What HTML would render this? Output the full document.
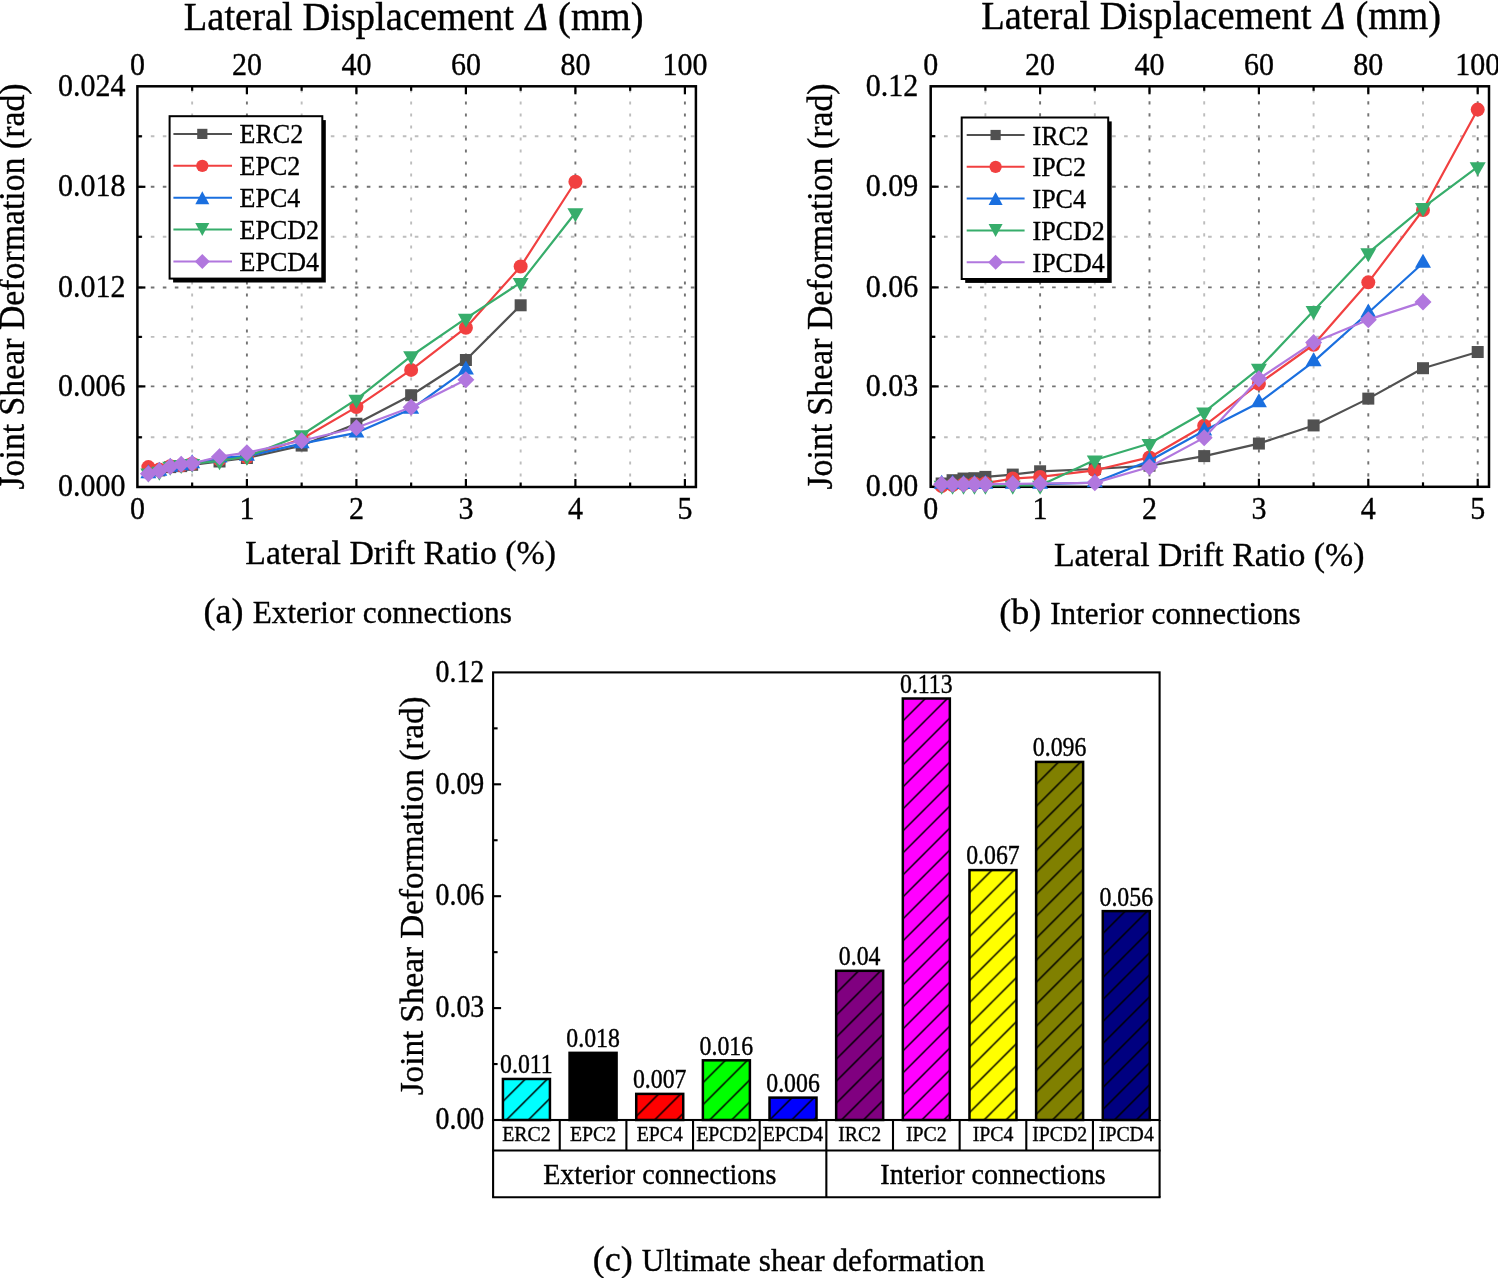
<!DOCTYPE html><html><head><meta charset="utf-8"><style>html,body{margin:0;padding:0;background:#fff;overflow:hidden;}svg{display:block;will-change:transform;} text{stroke:#000;stroke-width:0.35px;paint-order:stroke;}</style></head><body>
<svg width="1498" height="1278" viewBox="0 0 1498 1278" font-family='"Liberation Serif", serif' fill="#000">
<rect width="1498" height="1278" fill="#fff"/>
<g stroke-width="1.9" fill="none">
<line x1="192.15" y1="487" x2="192.15" y2="86.3" stroke="#bdbdbd" stroke-dasharray="3.2 8.8" stroke-dashoffset="1.6"/>
<line x1="246.9" y1="487" x2="246.9" y2="86.3" stroke="#737373" stroke-dasharray="3.2 8.8" stroke-dashoffset="1.6"/>
<line x1="301.65" y1="487" x2="301.65" y2="86.3" stroke="#bdbdbd" stroke-dasharray="3.2 8.8" stroke-dashoffset="1.6"/>
<line x1="356.4" y1="487" x2="356.4" y2="86.3" stroke="#737373" stroke-dasharray="3.2 8.8" stroke-dashoffset="1.6"/>
<line x1="411.15" y1="487" x2="411.15" y2="86.3" stroke="#bdbdbd" stroke-dasharray="3.2 8.8" stroke-dashoffset="1.6"/>
<line x1="465.9" y1="487" x2="465.9" y2="86.3" stroke="#737373" stroke-dasharray="3.2 8.8" stroke-dashoffset="1.6"/>
<line x1="520.65" y1="487" x2="520.65" y2="86.3" stroke="#bdbdbd" stroke-dasharray="3.2 8.8" stroke-dashoffset="1.6"/>
<line x1="575.4" y1="487" x2="575.4" y2="86.3" stroke="#737373" stroke-dasharray="3.2 8.8" stroke-dashoffset="1.6"/>
<line x1="630.15" y1="487" x2="630.15" y2="86.3" stroke="#bdbdbd" stroke-dasharray="3.2 8.8" stroke-dashoffset="1.6"/>
<line x1="684.9" y1="487" x2="684.9" y2="86.3" stroke="#737373" stroke-dasharray="3.2 8.8" stroke-dashoffset="1.6"/>
<line x1="137.4" y1="437.3" x2="695.9" y2="437.3" stroke="#bdbdbd" stroke-dasharray="3.6 8.4" stroke-dashoffset="-1.4"/>
<line x1="137.4" y1="386.4" x2="695.9" y2="386.4" stroke="#737373" stroke-dasharray="3.6 8.4" stroke-dashoffset="-1.4"/>
<line x1="137.4" y1="336.9" x2="695.9" y2="336.9" stroke="#bdbdbd" stroke-dasharray="3.6 8.4" stroke-dashoffset="-1.4"/>
<line x1="137.4" y1="287.5" x2="695.9" y2="287.5" stroke="#737373" stroke-dasharray="3.6 8.4" stroke-dashoffset="-1.4"/>
<line x1="137.4" y1="236.8" x2="695.9" y2="236.8" stroke="#bdbdbd" stroke-dasharray="3.6 8.4" stroke-dashoffset="-1.4"/>
<line x1="137.4" y1="186.8" x2="695.9" y2="186.8" stroke="#737373" stroke-dasharray="3.6 8.4" stroke-dashoffset="-1.4"/>
<line x1="137.4" y1="136.3" x2="695.9" y2="136.3" stroke="#bdbdbd" stroke-dasharray="3.6 8.4" stroke-dashoffset="-1.4"/>
</g>
<g stroke="#000" stroke-width="2.2">
<line x1="192.15" y1="487" x2="192.15" y2="482.5"/>
<line x1="192.15" y1="86.3" x2="192.15" y2="90.8"/>
<line x1="246.9" y1="487" x2="246.9" y2="479"/>
<line x1="246.9" y1="86.3" x2="246.9" y2="94.3"/>
<line x1="301.65" y1="487" x2="301.65" y2="482.5"/>
<line x1="301.65" y1="86.3" x2="301.65" y2="90.8"/>
<line x1="356.4" y1="487" x2="356.4" y2="479"/>
<line x1="356.4" y1="86.3" x2="356.4" y2="94.3"/>
<line x1="411.15" y1="487" x2="411.15" y2="482.5"/>
<line x1="411.15" y1="86.3" x2="411.15" y2="90.8"/>
<line x1="465.9" y1="487" x2="465.9" y2="479"/>
<line x1="465.9" y1="86.3" x2="465.9" y2="94.3"/>
<line x1="520.65" y1="487" x2="520.65" y2="482.5"/>
<line x1="520.65" y1="86.3" x2="520.65" y2="90.8"/>
<line x1="575.4" y1="487" x2="575.4" y2="479"/>
<line x1="575.4" y1="86.3" x2="575.4" y2="94.3"/>
<line x1="630.15" y1="487" x2="630.15" y2="482.5"/>
<line x1="630.15" y1="86.3" x2="630.15" y2="90.8"/>
<line x1="684.9" y1="487" x2="684.9" y2="479"/>
<line x1="684.9" y1="86.3" x2="684.9" y2="94.3"/>
<line x1="137.4" y1="437.3" x2="141.9" y2="437.3"/>
<line x1="137.4" y1="386.4" x2="145.4" y2="386.4"/>
<line x1="137.4" y1="336.9" x2="141.9" y2="336.9"/>
<line x1="137.4" y1="287.5" x2="145.4" y2="287.5"/>
<line x1="137.4" y1="236.8" x2="141.9" y2="236.8"/>
<line x1="137.4" y1="186.8" x2="145.4" y2="186.8"/>
<line x1="137.4" y1="136.3" x2="141.9" y2="136.3"/>
</g>
<rect x="137.4" y="86.3" width="558.5" height="400.7" fill="none" stroke="#000" stroke-width="2.5"/>
<path d="M148.35 472.09L159.3 470.43L170.25 467.12L181.2 466.13L192.15 464.8L219.53 461.49L246.9 458.01L301.65 445.58L356.4 423.73L411.15 395.22L465.9 360L520.65 305.28" fill="none" stroke="#515151" stroke-width="2.2" stroke-linejoin="round"/>
<rect x="142.35" y="466.09" width="12" height="12" fill="#515151"/>
<rect x="153.3" y="464.43" width="12" height="12" fill="#515151"/>
<rect x="164.25" y="461.12" width="12" height="12" fill="#515151"/>
<rect x="175.2" y="460.13" width="12" height="12" fill="#515151"/>
<rect x="186.15" y="458.8" width="12" height="12" fill="#515151"/>
<rect x="213.53" y="455.49" width="12" height="12" fill="#515151"/>
<rect x="240.9" y="452.01" width="12" height="12" fill="#515151"/>
<rect x="295.65" y="439.58" width="12" height="12" fill="#515151"/>
<rect x="350.4" y="417.73" width="12" height="12" fill="#515151"/>
<rect x="405.15" y="389.22" width="12" height="12" fill="#515151"/>
<rect x="459.9" y="354" width="12" height="12" fill="#515151"/>
<rect x="514.65" y="299.28" width="12" height="12" fill="#515151"/>
<path d="M148.35 467.12L159.3 469.61L170.25 466.13L181.2 465.46L192.15 463.81L219.53 459.67L246.9 457.18L301.65 438.96L356.4 407.1L411.15 369.9L465.9 327.68L520.65 266.54L575.4 181.75" fill="none" stroke="#F14040" stroke-width="2.2" stroke-linejoin="round"/>
<circle cx="148.35" cy="467.12" r="7" fill="#F14040"/>
<circle cx="159.3" cy="469.61" r="7" fill="#F14040"/>
<circle cx="170.25" cy="466.13" r="7" fill="#F14040"/>
<circle cx="181.2" cy="465.46" r="7" fill="#F14040"/>
<circle cx="192.15" cy="463.81" r="7" fill="#F14040"/>
<circle cx="219.53" cy="459.67" r="7" fill="#F14040"/>
<circle cx="246.9" cy="457.18" r="7" fill="#F14040"/>
<circle cx="301.65" cy="438.96" r="7" fill="#F14040"/>
<circle cx="356.4" cy="407.1" r="7" fill="#F14040"/>
<circle cx="411.15" cy="369.9" r="7" fill="#F14040"/>
<circle cx="465.9" cy="327.68" r="7" fill="#F14040"/>
<circle cx="520.65" cy="266.54" r="7" fill="#F14040"/>
<circle cx="575.4" cy="181.75" r="7" fill="#F14040"/>
<path d="M148.35 473.59L159.3 471.11L170.25 467.13L181.2 465.48L192.15 463.49L219.53 457.86L246.9 456.2L301.65 443.61L356.4 432.85L411.15 409.09L465.9 369.92" fill="none" stroke="#1A6FDF" stroke-width="2.2" stroke-linejoin="round"/>
<path d="M148.35 464.26L156.35 478.26L140.35 478.26Z" fill="#1A6FDF"/>
<path d="M159.3 461.78L167.3 475.78L151.3 475.78Z" fill="#1A6FDF"/>
<path d="M170.25 457.8L178.25 471.8L162.25 471.8Z" fill="#1A6FDF"/>
<path d="M181.2 456.14L189.2 470.14L173.2 470.14Z" fill="#1A6FDF"/>
<path d="M192.15 454.16L200.15 468.16L184.15 468.16Z" fill="#1A6FDF"/>
<path d="M219.53 448.52L227.53 462.52L211.53 462.52Z" fill="#1A6FDF"/>
<path d="M246.9 446.87L254.9 460.87L238.9 460.87Z" fill="#1A6FDF"/>
<path d="M301.65 434.28L309.65 448.28L293.65 448.28Z" fill="#1A6FDF"/>
<path d="M356.4 423.51L364.4 437.51L348.4 437.51Z" fill="#1A6FDF"/>
<path d="M411.15 399.76L419.15 413.76L403.15 413.76Z" fill="#1A6FDF"/>
<path d="M465.9 360.59L473.9 374.59L457.9 374.59Z" fill="#1A6FDF"/>
<path d="M148.35 473.07L159.3 471.41L170.25 466.44L181.2 464.79L192.15 463.63L219.53 460.98L246.9 456.5L301.65 434.97L356.4 399.34L411.15 356.02L465.9 318.43L520.65 282.63L575.4 212.8" fill="none" stroke="#37AD6B" stroke-width="2.2" stroke-linejoin="round"/>
<path d="M148.35 482.4L156.35 468.4L140.35 468.4Z" fill="#37AD6B"/>
<path d="M159.3 480.75L167.3 466.75L151.3 466.75Z" fill="#37AD6B"/>
<path d="M170.25 475.78L178.25 461.78L162.25 461.78Z" fill="#37AD6B"/>
<path d="M181.2 474.12L189.2 460.12L173.2 460.12Z" fill="#37AD6B"/>
<path d="M192.15 472.96L200.15 458.96L184.15 458.96Z" fill="#37AD6B"/>
<path d="M219.53 470.31L227.53 456.31L211.53 456.31Z" fill="#37AD6B"/>
<path d="M246.9 465.84L254.9 451.84L238.9 451.84Z" fill="#37AD6B"/>
<path d="M301.65 444.3L309.65 430.3L293.65 430.3Z" fill="#37AD6B"/>
<path d="M356.4 408.67L364.4 394.67L348.4 394.67Z" fill="#37AD6B"/>
<path d="M411.15 365.35L419.15 351.35L403.15 351.35Z" fill="#37AD6B"/>
<path d="M465.9 327.76L473.9 313.76L457.9 313.76Z" fill="#37AD6B"/>
<path d="M520.65 291.97L528.65 277.97L512.65 277.97Z" fill="#37AD6B"/>
<path d="M575.4 222.13L583.4 208.13L567.4 208.13Z" fill="#37AD6B"/>
<path d="M148.35 473.75L159.3 470.76L170.25 466.46L181.2 464.3L192.15 463.48L219.53 456.68L246.9 452.71L301.65 440.78L356.4 427.8L411.15 407.27L465.9 379.8" fill="none" stroke="#B177DE" stroke-width="2.2" stroke-linejoin="round"/>
<path d="M148.35 465.25L156.85 473.75L148.35 482.25L139.85 473.75Z" fill="#B177DE"/>
<path d="M159.3 462.26L167.8 470.76L159.3 479.26L150.8 470.76Z" fill="#B177DE"/>
<path d="M170.25 457.96L178.75 466.46L170.25 474.96L161.75 466.46Z" fill="#B177DE"/>
<path d="M181.2 455.8L189.7 464.3L181.2 472.8L172.7 464.3Z" fill="#B177DE"/>
<path d="M192.15 454.98L200.65 463.48L192.15 471.98L183.65 463.48Z" fill="#B177DE"/>
<path d="M219.53 448.18L228.03 456.68L219.53 465.18L211.03 456.68Z" fill="#B177DE"/>
<path d="M246.9 444.21L255.4 452.71L246.9 461.21L238.4 452.71Z" fill="#B177DE"/>
<path d="M301.65 432.28L310.15 440.78L301.65 449.28L293.15 440.78Z" fill="#B177DE"/>
<path d="M356.4 419.3L364.9 427.8L356.4 436.3L347.9 427.8Z" fill="#B177DE"/>
<path d="M411.15 398.77L419.65 407.27L411.15 415.77L402.65 407.27Z" fill="#B177DE"/>
<path d="M465.9 371.3L474.4 379.8L465.9 388.3L457.4 379.8Z" fill="#B177DE"/>
<g font-size="30">
<text transform="translate(137.4 518.8) scale(1 1.085)" font-size="30" text-anchor="middle" >0</text>
<text transform="translate(246.9 518.8) scale(1 1.085)" font-size="30" text-anchor="middle" >1</text>
<text transform="translate(356.4 518.8) scale(1 1.085)" font-size="30" text-anchor="middle" >2</text>
<text transform="translate(465.9 518.8) scale(1 1.085)" font-size="30" text-anchor="middle" >3</text>
<text transform="translate(575.4 518.8) scale(1 1.085)" font-size="30" text-anchor="middle" >4</text>
<text transform="translate(684.9 518.8) scale(1 1.085)" font-size="30" text-anchor="middle" >5</text>
<text transform="translate(137.4 74.8) scale(1 1.085)" font-size="30" text-anchor="middle" >0</text>
<text transform="translate(246.9 74.8) scale(1 1.085)" font-size="30" text-anchor="middle" >20</text>
<text transform="translate(356.4 74.8) scale(1 1.085)" font-size="30" text-anchor="middle" >40</text>
<text transform="translate(465.9 74.8) scale(1 1.085)" font-size="30" text-anchor="middle" >60</text>
<text transform="translate(575.4 74.8) scale(1 1.085)" font-size="30" text-anchor="middle" >80</text>
<text transform="translate(684.9 74.8) scale(1 1.085)" font-size="30" text-anchor="middle" >100</text>
<text transform="translate(125.5 496.3) scale(1 1.085)" font-size="30" text-anchor="end" >0.000</text>
<text transform="translate(125.5 395.7) scale(1 1.085)" font-size="30" text-anchor="end" >0.006</text>
<text transform="translate(125.5 296.8) scale(1 1.085)" font-size="30" text-anchor="end" >0.012</text>
<text transform="translate(125.5 196.1) scale(1 1.085)" font-size="30" text-anchor="end" >0.018</text>
<text transform="translate(125.5 95.6) scale(1 1.085)" font-size="30" text-anchor="end" >0.024</text>
</g>
<text transform="translate(413.7 29.5) scale(1 1.03)" font-size="38.5" text-anchor="middle">Lateral Displacement <tspan font-style="italic" dx="1.8">&#916;</tspan><tspan dx="0.4"> (mm)</tspan></text>
<text x="400.6" y="563.8" font-size="33.8" text-anchor="middle" >Lateral Drift Ratio (%)</text>
<text transform="translate(24.2 286.5) rotate(-90) scale(1 1.035)" font-size="33.8" text-anchor="middle">Joint Shear Deformation (rad)</text>
<text x="203.6" y="623.4" font-size="36" text-anchor="start" >(a)</text>
<text transform="translate(252.8 623.4) scale(1 1.04)" font-size="31.2" text-anchor="start" >Exterior connections</text>
<rect x="173.1" y="120.1" width="152.7" height="162.4" fill="#000"/>
<rect x="169.6" y="116.2" width="152.7" height="162.4" fill="#fff" stroke="#000" stroke-width="2"/>
<line x1="173.4" y1="133.9" x2="232" y2="133.9" stroke="#515151" stroke-width="2"/>
<rect x="197.2" y="128.8" width="10.2" height="10.2" fill="#515151"/>
<text transform="translate(239.6 143.4) scale(1 1.065)" font-size="26" text-anchor="start" >ERC2</text>
<line x1="173.4" y1="165.8" x2="232" y2="165.8" stroke="#F14040" stroke-width="2"/>
<circle cx="202.3" cy="165.8" r="6.15" fill="#F14040"/>
<text transform="translate(239.6 175.3) scale(1 1.065)" font-size="26" text-anchor="start" >EPC2</text>
<line x1="173.4" y1="197.7" x2="232" y2="197.7" stroke="#1A6FDF" stroke-width="2"/>
<path d="M202.3 191.2L209.3 204.2L195.3 204.2Z" fill="#1A6FDF"/>
<text transform="translate(239.6 207.2) scale(1 1.065)" font-size="26" text-anchor="start" >EPC4</text>
<line x1="173.4" y1="229.6" x2="232" y2="229.6" stroke="#37AD6B" stroke-width="2"/>
<path d="M202.3 236.1L209.3 223.1L195.3 223.1Z" fill="#37AD6B"/>
<text transform="translate(239.6 239.1) scale(1 1.065)" font-size="26" text-anchor="start" >EPCD2</text>
<line x1="173.4" y1="261.5" x2="232" y2="261.5" stroke="#B177DE" stroke-width="2"/>
<path d="M202.3 254L209.8 261.5L202.3 269L194.8 261.5Z" fill="#B177DE"/>
<text transform="translate(239.6 271) scale(1 1.065)" font-size="26" text-anchor="start" >EPCD4</text>
<g stroke-width="1.9" fill="none">
<line x1="985.4" y1="486.8" x2="985.4" y2="86.3" stroke="#bdbdbd" stroke-dasharray="3.2 8.8" stroke-dashoffset="1.6"/>
<line x1="1040.1" y1="486.8" x2="1040.1" y2="86.3" stroke="#737373" stroke-dasharray="3.2 8.8" stroke-dashoffset="1.6"/>
<line x1="1094.8" y1="486.8" x2="1094.8" y2="86.3" stroke="#bdbdbd" stroke-dasharray="3.2 8.8" stroke-dashoffset="1.6"/>
<line x1="1149.5" y1="486.8" x2="1149.5" y2="86.3" stroke="#737373" stroke-dasharray="3.2 8.8" stroke-dashoffset="1.6"/>
<line x1="1204.2" y1="486.8" x2="1204.2" y2="86.3" stroke="#bdbdbd" stroke-dasharray="3.2 8.8" stroke-dashoffset="1.6"/>
<line x1="1258.9" y1="486.8" x2="1258.9" y2="86.3" stroke="#737373" stroke-dasharray="3.2 8.8" stroke-dashoffset="1.6"/>
<line x1="1313.6" y1="486.8" x2="1313.6" y2="86.3" stroke="#bdbdbd" stroke-dasharray="3.2 8.8" stroke-dashoffset="1.6"/>
<line x1="1368.3" y1="486.8" x2="1368.3" y2="86.3" stroke="#737373" stroke-dasharray="3.2 8.8" stroke-dashoffset="1.6"/>
<line x1="1423" y1="486.8" x2="1423" y2="86.3" stroke="#bdbdbd" stroke-dasharray="3.2 8.8" stroke-dashoffset="1.6"/>
<line x1="1477.7" y1="486.8" x2="1477.7" y2="86.3" stroke="#737373" stroke-dasharray="3.2 8.8" stroke-dashoffset="1.6"/>
<line x1="930.7" y1="437.3" x2="1489" y2="437.3" stroke="#bdbdbd" stroke-dasharray="3.6 8.4" stroke-dashoffset="-1.4"/>
<line x1="930.7" y1="386.4" x2="1489" y2="386.4" stroke="#737373" stroke-dasharray="3.6 8.4" stroke-dashoffset="-1.4"/>
<line x1="930.7" y1="336.8" x2="1489" y2="336.8" stroke="#bdbdbd" stroke-dasharray="3.6 8.4" stroke-dashoffset="-1.4"/>
<line x1="930.7" y1="287.4" x2="1489" y2="287.4" stroke="#737373" stroke-dasharray="3.6 8.4" stroke-dashoffset="-1.4"/>
<line x1="930.7" y1="236.7" x2="1489" y2="236.7" stroke="#bdbdbd" stroke-dasharray="3.6 8.4" stroke-dashoffset="-1.4"/>
<line x1="930.7" y1="186.7" x2="1489" y2="186.7" stroke="#737373" stroke-dasharray="3.6 8.4" stroke-dashoffset="-1.4"/>
<line x1="930.7" y1="136.2" x2="1489" y2="136.2" stroke="#bdbdbd" stroke-dasharray="3.6 8.4" stroke-dashoffset="-1.4"/>
</g>
<g stroke="#000" stroke-width="2.2">
<line x1="985.4" y1="486.8" x2="985.4" y2="482.3"/>
<line x1="985.4" y1="86.3" x2="985.4" y2="90.8"/>
<line x1="1040.1" y1="486.8" x2="1040.1" y2="478.8"/>
<line x1="1040.1" y1="86.3" x2="1040.1" y2="94.3"/>
<line x1="1094.8" y1="486.8" x2="1094.8" y2="482.3"/>
<line x1="1094.8" y1="86.3" x2="1094.8" y2="90.8"/>
<line x1="1149.5" y1="486.8" x2="1149.5" y2="478.8"/>
<line x1="1149.5" y1="86.3" x2="1149.5" y2="94.3"/>
<line x1="1204.2" y1="486.8" x2="1204.2" y2="482.3"/>
<line x1="1204.2" y1="86.3" x2="1204.2" y2="90.8"/>
<line x1="1258.9" y1="486.8" x2="1258.9" y2="478.8"/>
<line x1="1258.9" y1="86.3" x2="1258.9" y2="94.3"/>
<line x1="1313.6" y1="486.8" x2="1313.6" y2="482.3"/>
<line x1="1313.6" y1="86.3" x2="1313.6" y2="90.8"/>
<line x1="1368.3" y1="486.8" x2="1368.3" y2="478.8"/>
<line x1="1368.3" y1="86.3" x2="1368.3" y2="94.3"/>
<line x1="1423" y1="486.8" x2="1423" y2="482.3"/>
<line x1="1423" y1="86.3" x2="1423" y2="90.8"/>
<line x1="1477.7" y1="486.8" x2="1477.7" y2="478.8"/>
<line x1="1477.7" y1="86.3" x2="1477.7" y2="94.3"/>
<line x1="930.7" y1="437.3" x2="935.2" y2="437.3"/>
<line x1="930.7" y1="386.4" x2="938.7" y2="386.4"/>
<line x1="930.7" y1="336.8" x2="935.2" y2="336.8"/>
<line x1="930.7" y1="287.4" x2="938.7" y2="287.4"/>
<line x1="930.7" y1="236.7" x2="935.2" y2="236.7"/>
<line x1="930.7" y1="186.7" x2="938.7" y2="186.7"/>
<line x1="930.7" y1="136.2" x2="935.2" y2="136.2"/>
</g>
<rect x="930.7" y="86.3" width="558.3" height="400.5" fill="none" stroke="#000" stroke-width="2.5"/>
<path d="M941.64 483.5L952.58 480.2L963.52 478.55L974.46 478.22L985.4 476.9L1012.75 474.59L1040.1 471.29L1094.8 468.98L1149.5 465.68L1204.2 456.11L1258.9 443.57L1313.6 425.42L1368.3 398.62L1423 368.21L1477.7 352.01" fill="none" stroke="#515151" stroke-width="2.2" stroke-linejoin="round"/>
<rect x="935.64" y="477.5" width="12" height="12" fill="#515151"/>
<rect x="946.58" y="474.2" width="12" height="12" fill="#515151"/>
<rect x="957.52" y="472.55" width="12" height="12" fill="#515151"/>
<rect x="968.46" y="472.22" width="12" height="12" fill="#515151"/>
<rect x="979.4" y="470.9" width="12" height="12" fill="#515151"/>
<rect x="1006.75" y="468.59" width="12" height="12" fill="#515151"/>
<rect x="1034.1" y="465.29" width="12" height="12" fill="#515151"/>
<rect x="1088.8" y="462.98" width="12" height="12" fill="#515151"/>
<rect x="1143.5" y="459.68" width="12" height="12" fill="#515151"/>
<rect x="1198.2" y="450.11" width="12" height="12" fill="#515151"/>
<rect x="1252.9" y="437.57" width="12" height="12" fill="#515151"/>
<rect x="1307.6" y="419.42" width="12" height="12" fill="#515151"/>
<rect x="1362.3" y="392.62" width="12" height="12" fill="#515151"/>
<rect x="1417" y="362.21" width="12" height="12" fill="#515151"/>
<rect x="1471.7" y="346.01" width="12" height="12" fill="#515151"/>
<path d="M941.64 486.14L952.58 485.15L963.52 484.16L974.46 483.5L985.4 483.17L1012.75 478.55L1040.1 476.9L1094.8 470.3L1149.5 457.43L1204.2 425.76L1258.9 383.75L1313.6 344.74L1368.3 282.33L1423 210.03L1477.7 109.59" fill="none" stroke="#F14040" stroke-width="2.2" stroke-linejoin="round"/>
<circle cx="941.64" cy="486.14" r="7" fill="#F14040"/>
<circle cx="952.58" cy="485.15" r="7" fill="#F14040"/>
<circle cx="963.52" cy="484.16" r="7" fill="#F14040"/>
<circle cx="974.46" cy="483.5" r="7" fill="#F14040"/>
<circle cx="985.4" cy="483.17" r="7" fill="#F14040"/>
<circle cx="1012.75" cy="478.55" r="7" fill="#F14040"/>
<circle cx="1040.1" cy="476.9" r="7" fill="#F14040"/>
<circle cx="1094.8" cy="470.3" r="7" fill="#F14040"/>
<circle cx="1149.5" cy="457.43" r="7" fill="#F14040"/>
<circle cx="1204.2" cy="425.76" r="7" fill="#F14040"/>
<circle cx="1258.9" cy="383.75" r="7" fill="#F14040"/>
<circle cx="1313.6" cy="344.74" r="7" fill="#F14040"/>
<circle cx="1368.3" cy="282.33" r="7" fill="#F14040"/>
<circle cx="1423" cy="210.03" r="7" fill="#F14040"/>
<circle cx="1477.7" cy="109.59" r="7" fill="#F14040"/>
<path d="M941.64 484.18L952.58 484.18L963.52 484.18L974.46 484.18L985.4 484.18L1012.75 484.18L1040.1 484.18L1094.8 482.53L1149.5 460.75L1204.2 430.81L1258.9 402.65L1313.6 361.62L1368.3 312.79L1423 263.03" fill="none" stroke="#1A6FDF" stroke-width="2.2" stroke-linejoin="round"/>
<path d="M941.64 474.85L949.64 488.85L933.64 488.85Z" fill="#1A6FDF"/>
<path d="M952.58 474.85L960.58 488.85L944.58 488.85Z" fill="#1A6FDF"/>
<path d="M963.52 474.85L971.52 488.85L955.52 488.85Z" fill="#1A6FDF"/>
<path d="M974.46 474.85L982.46 488.85L966.46 488.85Z" fill="#1A6FDF"/>
<path d="M985.4 474.85L993.4 488.85L977.4 488.85Z" fill="#1A6FDF"/>
<path d="M1012.75 474.85L1020.75 488.85L1004.75 488.85Z" fill="#1A6FDF"/>
<path d="M1040.1 474.85L1048.1 488.85L1032.1 488.85Z" fill="#1A6FDF"/>
<path d="M1094.8 473.2L1102.8 487.2L1086.8 487.2Z" fill="#1A6FDF"/>
<path d="M1149.5 451.42L1157.5 465.42L1141.5 465.42Z" fill="#1A6FDF"/>
<path d="M1204.2 421.48L1212.2 435.48L1196.2 435.48Z" fill="#1A6FDF"/>
<path d="M1258.9 393.31L1266.9 407.31L1250.9 407.31Z" fill="#1A6FDF"/>
<path d="M1313.6 352.29L1321.6 366.29L1305.6 366.29Z" fill="#1A6FDF"/>
<path d="M1368.3 303.45L1376.3 317.45L1360.3 317.45Z" fill="#1A6FDF"/>
<path d="M1423 253.7L1431 267.7L1415 267.7Z" fill="#1A6FDF"/>
<path d="M941.64 485.46L952.58 485.46L963.52 485.46L974.46 485.46L985.4 485.46L1012.75 485.46L1040.1 485.46L1094.8 460.05L1149.5 443.55L1204.2 412.23L1258.9 368.53L1313.6 310.75L1368.3 252.96L1423 207.7L1477.7 166.86" fill="none" stroke="#37AD6B" stroke-width="2.2" stroke-linejoin="round"/>
<path d="M941.64 494.79L949.64 480.79L933.64 480.79Z" fill="#37AD6B"/>
<path d="M952.58 494.79L960.58 480.79L944.58 480.79Z" fill="#37AD6B"/>
<path d="M963.52 494.79L971.52 480.79L955.52 480.79Z" fill="#37AD6B"/>
<path d="M974.46 494.79L982.46 480.79L966.46 480.79Z" fill="#37AD6B"/>
<path d="M985.4 494.79L993.4 480.79L977.4 480.79Z" fill="#37AD6B"/>
<path d="M1012.75 494.79L1020.75 480.79L1004.75 480.79Z" fill="#37AD6B"/>
<path d="M1040.1 494.79L1048.1 480.79L1032.1 480.79Z" fill="#37AD6B"/>
<path d="M1094.8 469.38L1102.8 455.38L1086.8 455.38Z" fill="#37AD6B"/>
<path d="M1149.5 452.88L1157.5 438.88L1141.5 438.88Z" fill="#37AD6B"/>
<path d="M1204.2 421.56L1212.2 407.56L1196.2 407.56Z" fill="#37AD6B"/>
<path d="M1258.9 377.86L1266.9 363.86L1250.9 363.86Z" fill="#37AD6B"/>
<path d="M1313.6 320.09L1321.6 306.09L1305.6 306.09Z" fill="#37AD6B"/>
<path d="M1368.3 262.29L1376.3 248.29L1360.3 248.29Z" fill="#37AD6B"/>
<path d="M1423 217.03L1431 203.03L1415 203.03Z" fill="#37AD6B"/>
<path d="M1477.7 176.19L1485.7 162.19L1469.7 162.19Z" fill="#37AD6B"/>
<path d="M941.64 484.16L952.58 484.16L963.52 484.16L974.46 484.16L985.4 484.16L1012.75 483.83L1040.1 483.5L1094.8 482.84L1149.5 467L1204.2 437.63L1258.9 378.79L1313.6 342.42L1368.3 319.67L1423 301.89" fill="none" stroke="#B177DE" stroke-width="2.2" stroke-linejoin="round"/>
<path d="M941.64 475.66L950.14 484.16L941.64 492.66L933.14 484.16Z" fill="#B177DE"/>
<path d="M952.58 475.66L961.08 484.16L952.58 492.66L944.08 484.16Z" fill="#B177DE"/>
<path d="M963.52 475.66L972.02 484.16L963.52 492.66L955.02 484.16Z" fill="#B177DE"/>
<path d="M974.46 475.66L982.96 484.16L974.46 492.66L965.96 484.16Z" fill="#B177DE"/>
<path d="M985.4 475.66L993.9 484.16L985.4 492.66L976.9 484.16Z" fill="#B177DE"/>
<path d="M1012.75 475.33L1021.25 483.83L1012.75 492.33L1004.25 483.83Z" fill="#B177DE"/>
<path d="M1040.1 475L1048.6 483.5L1040.1 492L1031.6 483.5Z" fill="#B177DE"/>
<path d="M1094.8 474.34L1103.3 482.84L1094.8 491.34L1086.3 482.84Z" fill="#B177DE"/>
<path d="M1149.5 458.5L1158 467L1149.5 475.5L1141 467Z" fill="#B177DE"/>
<path d="M1204.2 429.13L1212.7 437.63L1204.2 446.13L1195.7 437.63Z" fill="#B177DE"/>
<path d="M1258.9 370.29L1267.4 378.79L1258.9 387.29L1250.4 378.79Z" fill="#B177DE"/>
<path d="M1313.6 333.92L1322.1 342.42L1313.6 350.92L1305.1 342.42Z" fill="#B177DE"/>
<path d="M1368.3 311.17L1376.8 319.67L1368.3 328.17L1359.8 319.67Z" fill="#B177DE"/>
<path d="M1423 293.39L1431.5 301.89L1423 310.39L1414.5 301.89Z" fill="#B177DE"/>
<g font-size="30">
<text transform="translate(930.7 518.6) scale(1 1.085)" font-size="30" text-anchor="middle" >0</text>
<text transform="translate(1040.1 518.6) scale(1 1.085)" font-size="30" text-anchor="middle" >1</text>
<text transform="translate(1149.5 518.6) scale(1 1.085)" font-size="30" text-anchor="middle" >2</text>
<text transform="translate(1258.9 518.6) scale(1 1.085)" font-size="30" text-anchor="middle" >3</text>
<text transform="translate(1368.3 518.6) scale(1 1.085)" font-size="30" text-anchor="middle" >4</text>
<text transform="translate(1477.7 518.6) scale(1 1.085)" font-size="30" text-anchor="middle" >5</text>
<text transform="translate(930.7 74.8) scale(1 1.085)" font-size="30" text-anchor="middle" >0</text>
<text transform="translate(1040.1 74.8) scale(1 1.085)" font-size="30" text-anchor="middle" >20</text>
<text transform="translate(1149.5 74.8) scale(1 1.085)" font-size="30" text-anchor="middle" >40</text>
<text transform="translate(1258.9 74.8) scale(1 1.085)" font-size="30" text-anchor="middle" >60</text>
<text transform="translate(1368.3 74.8) scale(1 1.085)" font-size="30" text-anchor="middle" >80</text>
<text transform="translate(1477.7 74.8) scale(1 1.085)" font-size="30" text-anchor="middle" >100</text>
<text transform="translate(918.3 496.1) scale(1 1.085)" font-size="30" text-anchor="end" >0.00</text>
<text transform="translate(918.3 395.7) scale(1 1.085)" font-size="30" text-anchor="end" >0.03</text>
<text transform="translate(918.3 296.7) scale(1 1.085)" font-size="30" text-anchor="end" >0.06</text>
<text transform="translate(918.3 196) scale(1 1.085)" font-size="30" text-anchor="end" >0.09</text>
<text transform="translate(918.3 95.6) scale(1 1.085)" font-size="30" text-anchor="end" >0.12</text>
</g>
<text transform="translate(1211.1 28.5) scale(1 1.03)" font-size="38.5" text-anchor="middle">Lateral Displacement <tspan font-style="italic" dx="1.8">&#916;</tspan><tspan dx="0.4"> (mm)</tspan></text>
<text x="1209.2" y="565.6" font-size="33.8" text-anchor="middle" >Lateral Drift Ratio (%)</text>
<text transform="translate(831.9 286.5) rotate(-90) scale(1 1.035)" font-size="33.8" text-anchor="middle">Joint Shear Deformation (rad)</text>
<text x="999.2" y="623.5" font-size="36" text-anchor="start" >(b)</text>
<text transform="translate(1050.2 623.5) scale(1 1.04)" font-size="31.2" text-anchor="start" >Interior connections</text>
<rect x="965.2" y="121.4" width="146.5" height="161.5" fill="#000"/>
<rect x="961.7" y="117.5" width="146.5" height="161.5" fill="#fff" stroke="#000" stroke-width="2"/>
<line x1="966.7" y1="135" x2="1024.6" y2="135" stroke="#515151" stroke-width="2"/>
<rect x="990.5" y="129.9" width="10.2" height="10.2" fill="#515151"/>
<text transform="translate(1032.5 144.5) scale(1 1.065)" font-size="26" text-anchor="start" >IRC2</text>
<line x1="966.7" y1="166.8" x2="1024.6" y2="166.8" stroke="#F14040" stroke-width="2"/>
<circle cx="995.6" cy="166.8" r="6.15" fill="#F14040"/>
<text transform="translate(1032.5 176.3) scale(1 1.065)" font-size="26" text-anchor="start" >IPC2</text>
<line x1="966.7" y1="198.6" x2="1024.6" y2="198.6" stroke="#1A6FDF" stroke-width="2"/>
<path d="M995.6 192.1L1002.6 205.1L988.6 205.1Z" fill="#1A6FDF"/>
<text transform="translate(1032.5 208.1) scale(1 1.065)" font-size="26" text-anchor="start" >IPC4</text>
<line x1="966.7" y1="230.4" x2="1024.6" y2="230.4" stroke="#37AD6B" stroke-width="2"/>
<path d="M995.6 236.9L1002.6 223.9L988.6 223.9Z" fill="#37AD6B"/>
<text transform="translate(1032.5 239.9) scale(1 1.065)" font-size="26" text-anchor="start" >IPCD2</text>
<line x1="966.7" y1="262.2" x2="1024.6" y2="262.2" stroke="#B177DE" stroke-width="2"/>
<path d="M995.6 254.7L1003.1 262.2L995.6 269.7L988.1 262.2Z" fill="#B177DE"/>
<text transform="translate(1032.5 271.7) scale(1 1.065)" font-size="26" text-anchor="start" >IPCD4</text>
<defs>
<pattern id="h0" patternUnits="userSpaceOnUse" x="504.18" y="1080.22" width="22" height="22"><path d="M-2 22L22 -2M18 24L24 18" stroke="#000" stroke-width="1.5"/></pattern>
<pattern id="h1" patternUnits="userSpaceOnUse" x="570.83" y="1054.11" width="22" height="22"><path d="M-2 22L22 -2M18 24L24 18" stroke="#000" stroke-width="1.5"/></pattern>
<pattern id="h2" patternUnits="userSpaceOnUse" x="637.48" y="1095.14" width="22" height="22"><path d="M-2 22L22 -2M18 24L24 18" stroke="#000" stroke-width="1.5"/></pattern>
<pattern id="h3" patternUnits="userSpaceOnUse" x="704.12" y="1061.57" width="22" height="22"><path d="M-2 22L22 -2M18 24L24 18" stroke="#000" stroke-width="1.5"/></pattern>
<pattern id="h4" patternUnits="userSpaceOnUse" x="770.77" y="1098.87" width="22" height="22"><path d="M-2 22L22 -2M18 24L24 18" stroke="#000" stroke-width="1.5"/></pattern>
<pattern id="h5" patternUnits="userSpaceOnUse" x="837.42" y="972.05" width="22" height="22"><path d="M-2 22L22 -2M18 24L24 18" stroke="#000" stroke-width="1.5"/></pattern>
<pattern id="h6" patternUnits="userSpaceOnUse" x="904.08" y="699.76" width="22" height="22"><path d="M-2 22L22 -2M18 24L24 18" stroke="#000" stroke-width="1.5"/></pattern>
<pattern id="h7" patternUnits="userSpaceOnUse" x="970.72" y="871.34" width="22" height="22"><path d="M-2 22L22 -2M18 24L24 18" stroke="#000" stroke-width="1.5"/></pattern>
<pattern id="h8" patternUnits="userSpaceOnUse" x="1037.38" y="763.17" width="22" height="22"><path d="M-2 22L22 -2M18 24L24 18" stroke="#000" stroke-width="1.5"/></pattern>
<pattern id="h9" patternUnits="userSpaceOnUse" x="1104.03" y="912.37" width="22" height="22"><path d="M-2 22L22 -2M18 24L24 18" stroke="#000" stroke-width="1.5"/></pattern>
</defs>
<rect x="502.93" y="1078.97" width="47" height="41.03" fill="#00FFFF"/>
<rect x="502.93" y="1078.97" width="47" height="41.03" fill="url(#h0)"/>
<rect x="502.93" y="1078.97" width="47" height="41.03" fill="none" stroke="#000" stroke-width="2.5"/>
<text transform="translate(526.43 1073.37) scale(1 1.14)" font-size="23.8" text-anchor="middle" >0.011</text>
<text transform="translate(526.43 1140.8) scale(1 1.077)" font-size="19.8" text-anchor="middle" >ERC2</text>
<rect x="569.58" y="1052.86" width="47" height="67.14" fill="#000000"/>
<rect x="569.58" y="1052.86" width="47" height="67.14" fill="url(#h1)"/>
<rect x="569.58" y="1052.86" width="47" height="67.14" fill="none" stroke="#000" stroke-width="2.5"/>
<text transform="translate(593.08 1047.26) scale(1 1.14)" font-size="23.8" text-anchor="middle" >0.018</text>
<text transform="translate(593.08 1140.8) scale(1 1.077)" font-size="19.8" text-anchor="middle" >EPC2</text>
<rect x="636.23" y="1093.89" width="47" height="26.11" fill="#FF0000"/>
<rect x="636.23" y="1093.89" width="47" height="26.11" fill="url(#h2)"/>
<rect x="636.23" y="1093.89" width="47" height="26.11" fill="none" stroke="#000" stroke-width="2.5"/>
<text transform="translate(659.73 1088.29) scale(1 1.14)" font-size="23.8" text-anchor="middle" >0.007</text>
<text transform="translate(659.73 1140.8) scale(1 1.077)" font-size="19.8" text-anchor="middle" >EPC4</text>
<rect x="702.88" y="1060.32" width="47" height="59.68" fill="#00FF00"/>
<rect x="702.88" y="1060.32" width="47" height="59.68" fill="url(#h3)"/>
<rect x="702.88" y="1060.32" width="47" height="59.68" fill="none" stroke="#000" stroke-width="2.5"/>
<text transform="translate(726.38 1054.72) scale(1 1.14)" font-size="23.8" text-anchor="middle" >0.016</text>
<text transform="translate(726.38 1140.8) scale(1 1.077)" font-size="19.8" text-anchor="middle" >EPCD2</text>
<rect x="769.52" y="1097.62" width="47" height="22.38" fill="#0000FF"/>
<rect x="769.52" y="1097.62" width="47" height="22.38" fill="url(#h4)"/>
<rect x="769.52" y="1097.62" width="47" height="22.38" fill="none" stroke="#000" stroke-width="2.5"/>
<text transform="translate(793.02 1092.02) scale(1 1.14)" font-size="23.8" text-anchor="middle" >0.006</text>
<text transform="translate(793.02 1140.8) scale(1 1.077)" font-size="19.8" text-anchor="middle" >EPCD4</text>
<rect x="836.17" y="970.8" width="47" height="149.2" fill="#800080"/>
<rect x="836.17" y="970.8" width="47" height="149.2" fill="url(#h5)"/>
<rect x="836.17" y="970.8" width="47" height="149.2" fill="none" stroke="#000" stroke-width="2.5"/>
<text transform="translate(859.67 965.2) scale(1 1.14)" font-size="23.8" text-anchor="middle" >0.04</text>
<text transform="translate(859.67 1140.8) scale(1 1.077)" font-size="19.8" text-anchor="middle" >IRC2</text>
<rect x="902.83" y="698.51" width="47" height="421.49" fill="#FF00FF"/>
<rect x="902.83" y="698.51" width="47" height="421.49" fill="url(#h6)"/>
<rect x="902.83" y="698.51" width="47" height="421.49" fill="none" stroke="#000" stroke-width="2.5"/>
<text transform="translate(926.33 692.91) scale(1 1.14)" font-size="23.8" text-anchor="middle" >0.113</text>
<text transform="translate(926.33 1140.8) scale(1 1.077)" font-size="19.8" text-anchor="middle" >IPC2</text>
<rect x="969.47" y="870.09" width="47" height="249.91" fill="#FFFF00"/>
<rect x="969.47" y="870.09" width="47" height="249.91" fill="url(#h7)"/>
<rect x="969.47" y="870.09" width="47" height="249.91" fill="none" stroke="#000" stroke-width="2.5"/>
<text transform="translate(992.97 864.49) scale(1 1.14)" font-size="23.8" text-anchor="middle" >0.067</text>
<text transform="translate(992.97 1140.8) scale(1 1.077)" font-size="19.8" text-anchor="middle" >IPC4</text>
<rect x="1036.12" y="761.92" width="47" height="358.08" fill="#808000"/>
<rect x="1036.12" y="761.92" width="47" height="358.08" fill="url(#h8)"/>
<rect x="1036.12" y="761.92" width="47" height="358.08" fill="none" stroke="#000" stroke-width="2.5"/>
<text transform="translate(1059.62 756.32) scale(1 1.14)" font-size="23.8" text-anchor="middle" >0.096</text>
<text transform="translate(1059.62 1140.8) scale(1 1.077)" font-size="19.8" text-anchor="middle" >IPCD2</text>
<rect x="1102.78" y="911.12" width="47" height="208.88" fill="#000080"/>
<rect x="1102.78" y="911.12" width="47" height="208.88" fill="url(#h9)"/>
<rect x="1102.78" y="911.12" width="47" height="208.88" fill="none" stroke="#000" stroke-width="2.5"/>
<text transform="translate(1126.28 905.52) scale(1 1.14)" font-size="23.8" text-anchor="middle" >0.056</text>
<text transform="translate(1126.28 1140.8) scale(1 1.077)" font-size="19.8" text-anchor="middle" >IPCD4</text>
<rect x="493.1" y="672.4" width="666.5" height="447.6" fill="none" stroke="#000" stroke-width="2.1"/>
<g stroke="#000" stroke-width="2.1">
<line x1="493.1" y1="1064.05" x2="497.6" y2="1064.05"/>
<line x1="493.1" y1="1008.1" x2="501.1" y2="1008.1"/>
<line x1="493.1" y1="952.15" x2="497.6" y2="952.15"/>
<line x1="493.1" y1="896.2" x2="501.1" y2="896.2"/>
<line x1="493.1" y1="840.25" x2="497.6" y2="840.25"/>
<line x1="493.1" y1="784.3" x2="501.1" y2="784.3"/>
<line x1="493.1" y1="728.35" x2="497.6" y2="728.35"/>
<line x1="493.1" y1="1120" x2="493.1" y2="1197.3"/>
<line x1="1159.6" y1="1120" x2="1159.6" y2="1197.3"/>
<line x1="492.1" y1="1150.5" x2="1160.6" y2="1150.5"/>
<line x1="492.1" y1="1197.3" x2="1160.6" y2="1197.3"/>
<line x1="559.75" y1="1120" x2="559.75" y2="1150.5"/>
<line x1="626.4" y1="1120" x2="626.4" y2="1150.5"/>
<line x1="693.05" y1="1120" x2="693.05" y2="1150.5"/>
<line x1="759.7" y1="1120" x2="759.7" y2="1150.5"/>
<line x1="826.35" y1="1120" x2="826.35" y2="1197.3"/>
<line x1="893" y1="1120" x2="893" y2="1150.5"/>
<line x1="959.65" y1="1120" x2="959.65" y2="1150.5"/>
<line x1="1026.3" y1="1120" x2="1026.3" y2="1150.5"/>
<line x1="1092.95" y1="1120" x2="1092.95" y2="1150.5"/>
</g>
<text transform="translate(659.73 1184) scale(1 1.05)" font-size="28.1" text-anchor="middle" >Exterior connections</text>
<text transform="translate(992.97 1184) scale(1 1.05)" font-size="28.1" text-anchor="middle" >Interior connections</text>
<text transform="translate(484.3 1129.2) scale(1 1.1)" font-size="27.9" text-anchor="end" >0.00</text>
<text transform="translate(484.3 1017.3) scale(1 1.1)" font-size="27.9" text-anchor="end" >0.03</text>
<text transform="translate(484.3 905.4) scale(1 1.1)" font-size="27.9" text-anchor="end" >0.06</text>
<text transform="translate(484.3 793.5) scale(1 1.1)" font-size="27.9" text-anchor="end" >0.09</text>
<text transform="translate(484.3 681.6) scale(1 1.1)" font-size="27.9" text-anchor="end" >0.12</text>
<text transform="translate(422.8 895.84) rotate(-90) scale(1 1.035)" font-size="33.2" text-anchor="middle">Joint Shear Deformation (rad)</text>
<text x="592.7" y="1270.9" font-size="36" text-anchor="start" >(c)</text>
<text transform="translate(641.8 1270.9) scale(1 1.04)" font-size="31.2" text-anchor="start" >Ultimate shear deformation</text>
</svg></body></html>
